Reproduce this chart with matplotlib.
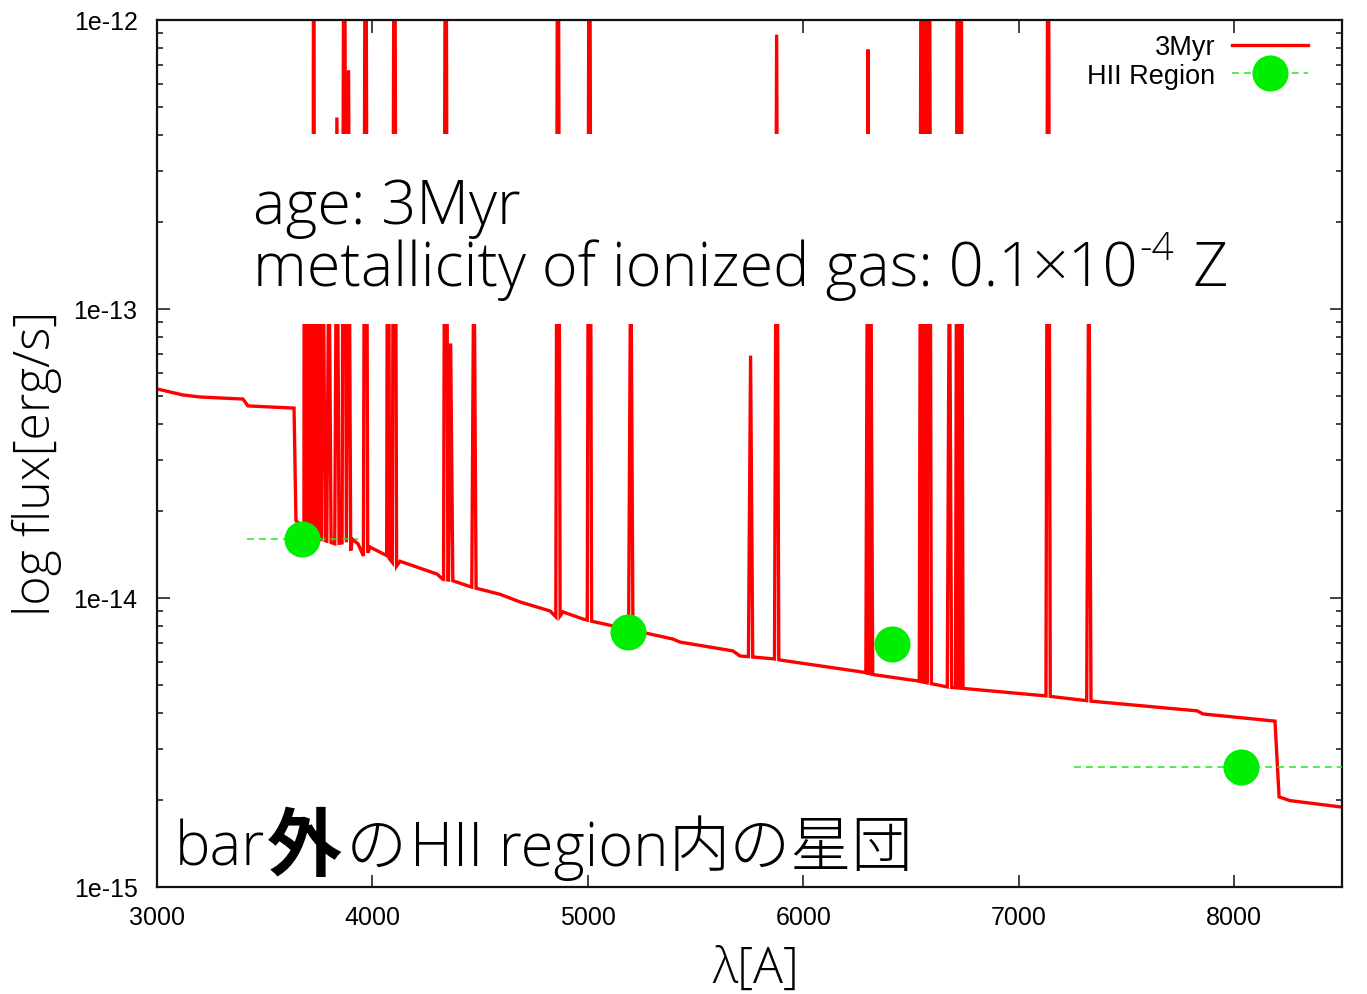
import numpy as np
import matplotlib
matplotlib.use("Agg")
import matplotlib.pyplot as plt
from matplotlib.font_manager import FontProperties
from matplotlib.patches import Rectangle
from matplotlib.container import ErrorbarContainer
from matplotlib.legend_handler import HandlerErrorbar
from matplotlib.ticker import LogLocator, FuncFormatter, NullFormatter, FixedLocator
from matplotlib.transforms import IdentityTransform, blended_transform_factory

plt.rcParams["lines.scale_dashes"] = False

# ---- model spectrum: continuum knots (wavelength [A], flux) ----
cont_wl = np.array([3000, 3121, 3200, 3399, 3422, 3636, 3645, 3757, 3826, 3886,
                    3900, 3905, 3933, 3965, 3989, 4068, 4109, 4128, 4300, 4327,
                    4369, 4462, 4592, 4685, 4824, 4861, 4884, 4977, 5014, 5395,
                    5427, 5673, 5706, 5766, 5868, 5892, 6277, 6333, 6527, 6671,
                    7131, 7330, 7827, 7855, 8189, 8208, 8259, 8500])
cont_fx = np.array([5.29e-14, 5.04e-14, 4.96e-14, 4.88e-14, 4.62e-14, 4.54e-14, 1.85e-14,
                    1.60e-14, 1.54e-14, 1.56e-14, 1.46e-14, 1.60e-14, 1.54e-14, 1.36e-14,
                    1.50e-14, 1.40e-14, 1.28e-14, 1.34e-14, 1.21e-14, 1.16e-14, 1.15e-14,
                    1.09e-14, 1.03e-14, 9.69e-15, 9.02e-15, 8.46e-15, 8.95e-15, 8.46e-15,
                    8.32e-15, 7.21e-15, 7.04e-15, 6.56e-15, 6.30e-15, 6.25e-15, 6.15e-15,
                    6.10e-15, 5.54e-15, 5.42e-15, 5.17e-15, 4.92e-15, 4.58e-15, 4.40e-15,
                    4.07e-15, 3.97e-15, 3.75e-15, 2.05e-15, 1.99e-15, 1.89e-15])

# ---- nebular emission lines: wavelength [A] and peak flux ----
line_wl = np.array([3683, 3687, 3692, 3697, 3704, 3712, 3722, 3727, 3734, 3750,
                    3771, 3798, 3835, 3869, 3889, 3968, 4069, 4076, 4102, 4340,
                    4363, 4471, 4861, 5007, 5199, 5755, 5876, 6300, 6312, 6548,
                    6563, 6584, 6678, 6716, 6731, 7136, 7325])
line_peak = np.array([2.0e-13, 2.0e-13, 2.0e-13, 2.0e-13, 2.0e-13, 2.0e-13, 2.0e-13, 1.0e-11,
                      2.0e-13, 2.0e-13, 2.0e-13, 2.0e-13, 4.6e-13, 1.0e-11, 6.7e-13, 1.0e-11,
                      2.0e-13, 2.0e-13, 1.0e-11, 1.0e-11, 7.6e-14, 2.0e-13, 1.0e-11, 1.0e-11,
                      2.0e-13, 6.9e-14, 8.9e-13, 7.9e-13, 2.0e-13, 1.0e-11, 1.0e-11, 1.0e-11,
                      2.0e-13, 1.0e-11, 1.0e-11, 1.0e-11, 2.0e-13])

# ---- HII region photometry ----
obs_wl = np.array([3675, 5186, 6411, 8031])
obs_fx = np.array([1.60e-14, 7.62e-15, 6.93e-15, 2.60e-15])
obs_xerr = np.array([258, 0, 0, 775])

ytick_vals = [1e-15, 1e-14, 1e-13, 1e-12]
xtick_vals = [3000, 4000, 5000, 6000, 7000, 8000]

# ---- build the plotted spectrum: continuum with narrow triangular lines ----
half = 10.0
log_c = np.log10(cont_fx)
keep = np.ones(cont_wl.size, bool)
for w in line_wl:
    keep &= ~((cont_wl > w - half) & (cont_wl < w + half))
sw = list(cont_wl[keep].astype(float))
sf = list(cont_fx[keep])
for w, p in zip(line_wl, line_peak):
    for x in (w - half, w + half):
        sw.append(x)
        sf.append(10 ** np.interp(x, cont_wl, log_c))
    sw.append(float(w))
    sf.append(p)
order = np.argsort(sw, kind="stable")
spec_wl = np.array(sw)[order]
spec_fx = np.array(sf)[order]

W, H = 1367, 995
fig = plt.figure(figsize=(W / 100, H / 100), dpi=100)
ax = fig.add_axes([157 / W, 1 - 888 / H, (1342 - 157) / W, (888 - 21) / H])

ax.plot(spec_wl, spec_fx, color="#ff0000", lw=2.4, zorder=2,
        solid_joinstyle="miter", label="3Myr")

eb = ax.errorbar(obs_wl, obs_fx, xerr=obs_xerr, fmt="o", color="#00ee00",
                 markersize=26, markeredgewidth=0, ecolor="#22e622",
                 elinewidth=1.1, capsize=8, capthick=1.1, zorder=4, label="HII Region")
for c in eb[2]:
    c.set_linestyle((0, (5, 3.6)))

ax.set_yscale("log")
ax.set_xlim(3000, 8500)
ax.set_ylim(1e-15, 1e-12)

# white panel behind the annotation text
box = Rectangle((0.015, 8.9e-14), 0.97, 4.03e-13 - 8.9e-14, facecolor="white",
                edgecolor="none", zorder=3,
                transform=blended_transform_factory(ax.transAxes, ax.transData))
ax.add_patch(box)

tick_font = FontProperties(family=["Liberation Sans", "DejaVu Sans"], size=18)
ax.xaxis.set_major_locator(FixedLocator(xtick_vals))
ax.yaxis.set_major_locator(FixedLocator(ytick_vals))
ax.yaxis.set_minor_locator(LogLocator(base=10, subs=np.arange(2, 10)))
ax.yaxis.set_minor_formatter(NullFormatter())
ax.yaxis.set_major_formatter(FuncFormatter(lambda v, p: "1e%d" % round(np.log10(v))))
ax.tick_params(which="both", direction="in", top=True, right=True, width=1.2, color="#222222")
ax.tick_params(which="major", length=9)
ax.tick_params(which="minor", length=4.5)
ax.tick_params(axis="y", pad=14)
ax.tick_params(axis="x", pad=13)
for lab in ax.get_xticklabels() + ax.get_yticklabels():
    lab.set_fontproperties(tick_font)
for s in ax.spines.values():
    s.set_linewidth(1.6)
    s.set_color("#111111")

SANS = ["Open Sans", "Liberation Sans", "DejaVu Sans"]
label_font = FontProperties(family=SANS, weight=300, stretch="normal", size=36)
fig.text(756 / W, 1 - 970 / H, "λ[A]", fontproperties=label_font, ha="center", va="center")
fig.text(37 / W, 1 - 463 / H, "log flux[erg/s]", fontproperties=label_font,
         ha="center", va="center", rotation=90)

# legend (text on the left, sample on the right)
leg_font = FontProperties(family=["Liberation Sans", "DejaVu Sans"], size=19.5)
leg = ax.legend(loc="upper right", bbox_to_anchor=((1308 - 157) / 1185, (888 - 35) / 867),
                frameon=False, markerfirst=False, prop=leg_font, borderpad=0,
                borderaxespad=0, handlelength=2.8, handletextpad=0.62,
                labelspacing=0.1, numpoints=1,
                handler_map={ErrorbarContainer: HandlerErrorbar(xerr_size=1.4)})

# annotation texts placed as runs of differently styled pieces
renderer = fig.canvas.get_renderer()


def put_run(x, y_img, pieces):
    cx = x
    for s, fp, dy, gap in pieces:
        cx += gap
        t = fig.text(cx, H - y_img + dy, s, fontproperties=fp, transform=IdentityTransform(),
                     ha="left", va="baseline", zorder=6)
        cx = t.get_window_extent(renderer).x1


big = FontProperties(family=SANS, weight=300, stretch="normal", size=44)
sup = FontProperties(family=SANS, weight=300, stretch="normal", size=28)
put_run(253, 224, [("age: 3Myr", big, 0, 0)])
put_run(253, 286, [("metallicity of ionized gas: 0.1×10", big, 0, 0),
                   ("-4", sup, 26, 2),
                   ("Z", big, 0, 18)])

lat = FontProperties(family=SANS, weight=300, stretch="normal", size=43)
jp = FontProperties(family=["Noto Sans CJK JP", "DejaVu Sans"], weight="light", size=44)
jpb = FontProperties(family=["Noto Sans CJK JP", "DejaVu Sans"], weight="bold", size=54)
put_run(175, 866, [("bar", lat, 0, 0), ("外", jpb, -4, 2), ("の", jp, 0, 3),
                   ("HII region", lat, 0, 3), ("内の星団", jp, 0, 1)])

fig.savefig("out.png", dpi=100)
